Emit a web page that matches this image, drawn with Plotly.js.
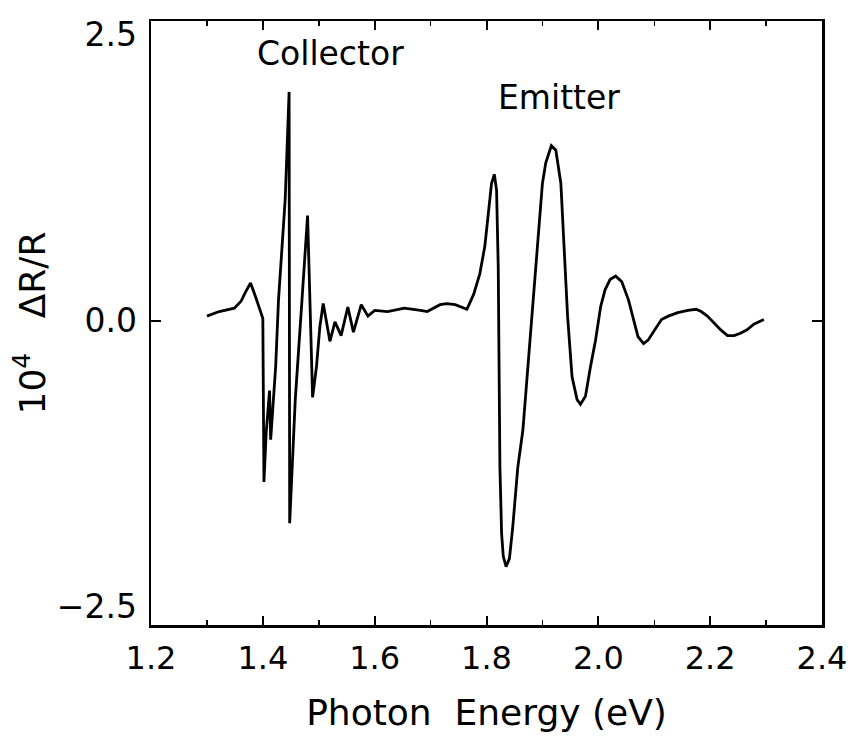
<!DOCTYPE html>
<html>
<head>
<meta charset="utf-8">
<script src="https://cdn.plot.ly/plotly-3.0.1.min.js"></script>
<style>html,body{margin:0;padding:0;background:#fff;}#chart{width:851px;height:753px;}</style>
</head>
<body>
<div id="chart"></div>
<script>
// Photon energy (eV)
const energy = [1.300,1.322,1.349,1.361,1.369,1.378,1.387,1.396,1.400,1.402,
1.406,1.412,1.414,1.423,1.428,1.440,1.447,1.448,1.458,1.470,
1.480,1.489,1.496,1.502,1.508,1.520,1.529,1.540,1.552,1.562,
1.576,1.588,1.600,1.623,1.653,1.682,1.694,1.717,1.729,1.744,
1.759,1.765,1.777,1.788,1.797,1.803,1.809,1.814,1.818,1.821,
1.822,1.824,1.827,1.830,1.835,1.841,1.847,1.856,1.865,1.874,
1.883,1.892,1.900,1.906,1.916,1.924,1.933,1.939,1.945,1.953,
1.962,1.968,1.977,1.986,1.995,2.004,2.012,2.021,2.031,2.042,
2.054,2.063,2.071,2.081,2.089,2.101,2.113,2.125,2.142,2.160,
2.175,2.184,2.195,2.207,2.219,2.231,2.243,2.254,2.266,2.278,
2.296];
// 10^4 dR/R
const dRR = [0.04,0.08,0.11,0.17,0.25,0.33,0.21,0.08,0.02,-1.41,
-0.98,-0.61,-1.04,-0.40,0.18,1.06,2.00,-1.77,-0.69,0.18,
0.92,-0.67,-0.40,-0.05,0.15,-0.18,-0.01,-0.13,0.12,-0.10,
0.14,0.04,0.09,0.08,0.11,0.09,0.08,0.14,0.15,0.14,
0.11,0.10,0.23,0.41,0.65,0.94,1.20,1.28,1.14,0.47,
-0.40,-1.28,-1.86,-2.06,-2.15,-2.08,-1.80,-1.28,-0.96,-0.40,
0.18,0.71,1.20,1.38,1.53,1.49,1.20,0.62,0.04,-0.49,
-0.69,-0.73,-0.66,-0.40,-0.17,0.12,0.27,0.36,0.39,0.34,
0.18,0.01,-0.14,-0.20,-0.17,-0.08,0.01,0.04,0.07,0.09,
0.10,0.08,0.04,-0.02,-0.08,-0.13,-0.13,-0.11,-0.08,-0.03,
0.01];

const xTickVals = [1.2,1.4,1.6,1.8,2.0,2.2,2.4];
const xTickText = ['1.2','1.4','1.6','1.8','2.0','2.2','2.4'];
const yTickVals = [-2.5,0,2.5];
const yTickText = ['\u22122.5','0.0','2.5'];
const regionLabels = ['Collector','Emitter'];

const FONT = 'DejaVu Sans, Liberation Sans, sans-serif';

const trace = {
  x: energy, y: dRR, type: 'scatter', mode: 'lines',
  line: {color: '#000', width: 2.8, shape: 'linear'},
  hoverinfo: 'skip', showlegend: false
};

const layout = {
  width: 851, height: 753,
  margin: {l: 151, r: 29, t: 21, b: 128},
  paper_bgcolor: '#fff', plot_bgcolor: '#fff',
  font: {family: FONT, color: '#000'},
  showlegend: false,
  xaxis: {
    range: [1.2, 2.4], tickmode: 'array', tickvals: xTickVals, ticktext: xTickText,
    ticks: 'inside', ticklen: 9, tickwidth: 2, tickcolor: '#000',
    minor: {dtick: 0.1, tick0: 1.2, ticks: 'inside', ticklen: 5, tickwidth: 1.5, tickcolor: '#000'},
    showline: true, linewidth: 2.5, linecolor: '#000', mirror: 'ticks',
    showgrid: false, zeroline: false,
    tickfont: {family: FONT, size: 32, color: '#000'},
    ticklabelstandoff: 3, ticklabeloverflow: 'allow',
    title: {text: 'Photon\u00a0\u00a0Energy (eV)', font: {family: FONT, size: 36, color: '#000'}, standoff: 24}
  },
  yaxis: {
    range: [-2.66, 2.62], tickmode: 'array', tickvals: yTickVals, ticktext: yTickText,
    ticks: '',
    minor: {tickmode: 'array', tickvals: [0], ticks: 'inside', ticklen: 10, tickwidth: 2, tickcolor: '#000'},
    showline: true, linewidth: 2.5, linecolor: '#000', mirror: 'ticks',
    showgrid: false, zeroline: false,
    tickfont: {family: FONT, size: 33, color: '#000'},
    ticklabelstandoff: 5,
    title: {text: '10<sup>4</sup>\u00a0\u00a0\u00a0\u0394R/R', font: {family: FONT, size: 36, color: '#000'}, standoff: 0}
  },
  annotations: [
    {x: 1.521, y: 2.34, xref: 'x', yref: 'y', text: regionLabels[0], showarrow: false,
     font: {family: FONT, size: 33, color: '#000'}, xanchor: 'center', yanchor: 'middle'},
    {x: 1.929, y: 1.95, xref: 'x', yref: 'y', text: regionLabels[1], showarrow: false,
     font: {family: FONT, size: 33, color: '#000'}, xanchor: 'center', yanchor: 'middle'}
  ]
};

Plotly.newPlot('chart', [trace], layout, {staticPlot: true, displayModeBar: false});
</script>
</body>
</html>
